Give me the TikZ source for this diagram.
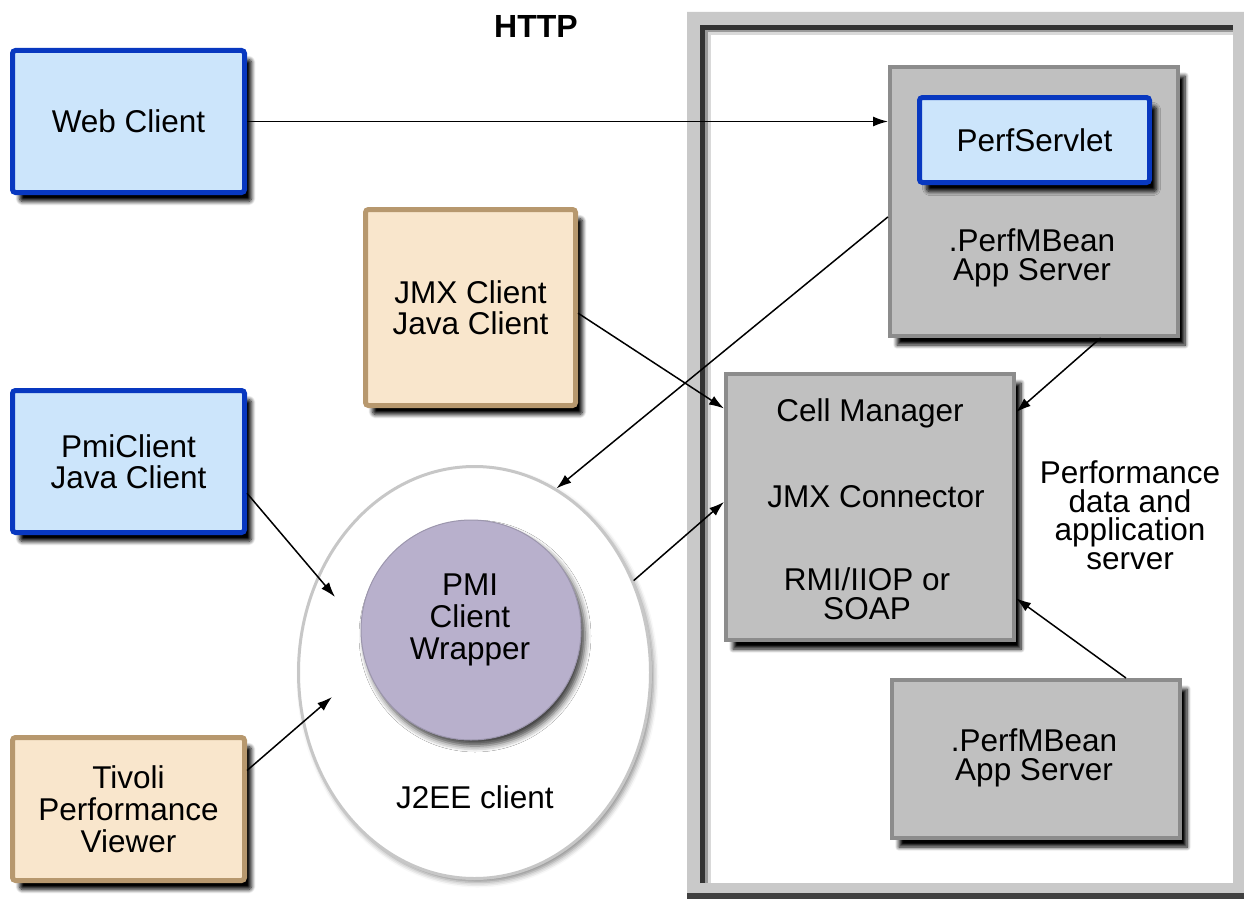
\documentclass[tikz,border=0pt]{standalone}
\usepackage{fontspec}
\setmainfont{Liberation Sans}
\usetikzlibrary{shapes.geometric,arrows.meta,shadows.blur}

\definecolor{webfill}{HTML}{CCE5FB}
\definecolor{webline}{HTML}{0838C0}
\definecolor{tanfill}{HTML}{F9E6CC}
\definecolor{tanline}{HTML}{B7986E}
\definecolor{srvfill}{HTML}{C0C0C0}
\definecolor{srvline}{HTML}{8C8C8C}
\definecolor{pmifill}{HTML}{B8B0CC}
\definecolor{framegray}{HTML}{C9C9C9}

\tikzset{
  boxshadow/.style={blur shadow={shadow xshift=7pt, shadow yshift=-9pt,
      shadow opacity=100, shadow blur radius=4pt, shadow blur steps=8}},
  clientbox/.style={rectangle, rounded corners=3pt, line width=5pt,
      draw=webline, fill=webfill, inner sep=0pt, align=center, boxshadow},
  tanbox/.style={rectangle, rounded corners=3pt, line width=5pt,
      draw=tanline, fill=tanfill, inner sep=0pt, align=center, boxshadow},
  srvbox/.style={rectangle, line width=4pt, draw=srvline, fill=srvfill,
      inner sep=0pt, align=center, boxshadow},
  txt/.style={inner sep=0pt, align=center},
  conn/.style={-{Latex[length=15pt,width=10pt]}, line width=1.5pt, black},
}

\begin{document}
\begin{tikzpicture}[x=1pt, y=-1pt, font=\fontsize{31.5}{31}\selectfont]
\useasboundingbox (0,0) rectangle (1244,899);

% server frame: light band with a soft dark inner edge on top and left
\fill[framegray, even odd rule] (687,12) rectangle (1244,893) (700,25) rectangle (1233,883);
\draw[line width=3pt, black!15] (709,883) -- (709,34) -- (1233,34);
\draw[line width=3pt, black!40] (706,883) -- (706,31) -- (1233,31);
\draw[line width=5pt, black!80] (702.5,883) -- (702.5,27.5) -- (1233,27.5);
\fill[black!75] (687,893) rectangle (1244,899);

% client side
\node[clientbox, minimum width=232pt, minimum height=142pt] (web) at (128.5,121.5) {Web Client};
\node[clientbox, minimum width=232pt, minimum height=142pt] (pmi) at (128.5,461.5) {PmiClient\\Java Client};
\node[tanbox, minimum width=232pt, minimum height=143pt, font=\fontsize{31.5}{32}\selectfont] (tivoli) at (128.5,809) {Tivoli\\Performance\\Viewer};
\node[tanbox, minimum width=210pt, minimum height=196pt] (jmx) at (470.5,307.5) {JMX Client\\Java Client};

% J2EE client with the PMI wrapper
\node[ellipse, minimum width=352pt, minimum height=412pt, draw=black!22, line width=3pt,
      fill=white, blur shadow={shadow xshift=3pt, shadow yshift=-4pt, shadow opacity=45,
      shadow blur radius=5pt}] (j2ee) at (474.5,672.5) {};
\node[circle, minimum size=220pt, fill=pmifill, draw=pmifill!85!black, line width=1pt,
      blur shadow={shadow xshift=4pt, shadow yshift=-6pt, shadow opacity=75,
      shadow blur radius=6pt}, txt] (wrap) at (471,630) {};
\node[txt, font=\fontsize{31.5}{32}\selectfont] (wraptxt) at (470,620) {PMI\\Client\\Wrapper};
\node[txt] (j2eetxt) at (475,797) {J2EE client};

% application servers
\node[srvbox, minimum width=288pt, minimum height=269pt] (app) at (1034,201.5) {};
\node[clientbox, minimum width=230pt, minimum height=85pt] (servlet) at (1034.5,140) {PerfServlet};
\node[txt, font=\fontsize{31.5}{29}\selectfont] (apptxt) at (1032,258) {.PerfMBean\\App Server};

\node[srvbox, minimum width=288pt, minimum height=266pt] (cell) at (870,507) {};
\node[txt] (celltxt) at (870,413) {Cell Manager};
\node[txt] (jmxctxt) at (876,497) {JMX Connector};
\node[txt, font=\fontsize{31.5}{29}\selectfont] (rmitxt) at (867,594) {RMI/IIOP or\\SOAP};

\node[srvbox, minimum width=288pt, minimum height=158pt] (bot) at (1036,759) {};
\node[txt, font=\fontsize{31.5}{29}\selectfont] (bottxt) at (1034,758) {.PerfMBean\\App Server};

\node[txt, font=\fontsize{31.5}{28.5}\selectfont] (perfdata) at (1130,515) {Performance\\data and\\application\\server};
\node[txt, font=\bfseries\fontsize{32}{31}\selectfont] (http) at (536,26) {HTTP};

% connectors
\coordinate (tipA) at (335,597);
\coordinate (tipB) at (332,697);
\draw[conn] (web.east) -- (web.east -| app.west);
\draw[conn] (app.186.6) -- (j2ee.66);
\draw[conn] (jmx.-3) -- (cell.146);
\draw[conn] (app.-64.3) -- (cell.33.2);
\draw[conn] (bot.42.3) -- (cell.-32);
\draw[conn] (j2ee.30) -- (cell.178);
\draw[conn] (pmi.-15) -- (tipA);
\draw[conn] (tivoli.18) -- (tipB);
\end{tikzpicture}
\end{document}
